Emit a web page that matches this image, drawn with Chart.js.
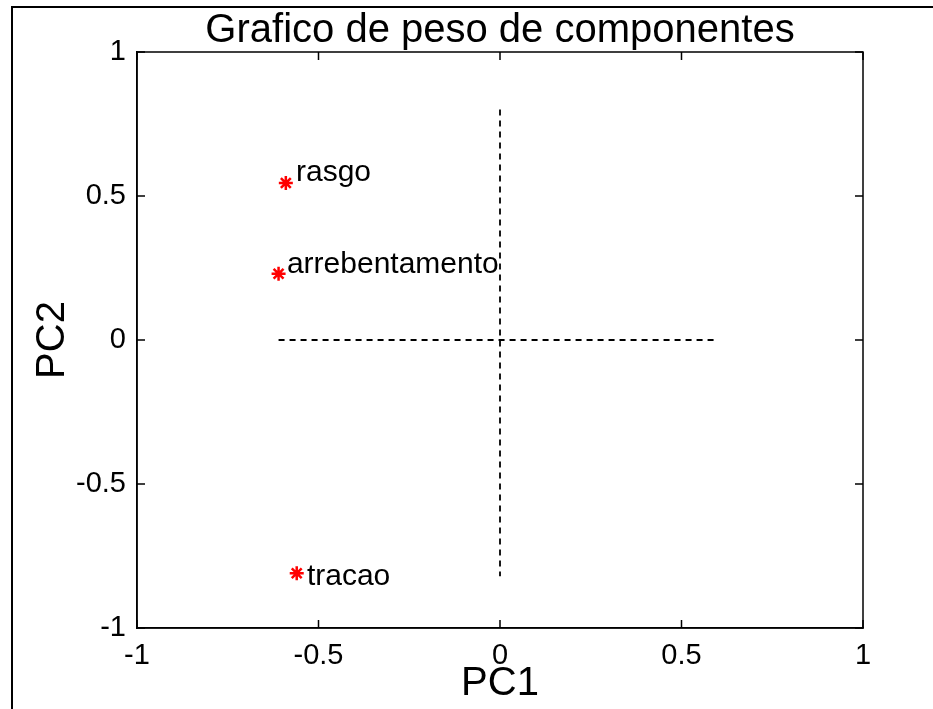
<!DOCTYPE html>
<html>
<head>
<meta charset="utf-8">
<title>Grafico de peso de componentes</title>
<script src="https://cdn.jsdelivr.net/npm/chart.js@4/dist/chart.umd.min.js"></script>
<style>
  html, body { margin: 0; padding: 0; background: #fff; }
  #wrap { width: 933px; height: 709px; }
</style>
</head>
<body>
<div id="wrap"><canvas id="pesos" width="933" height="709"></canvas></div>
<script>
// pesos das variaveis nas duas primeiras componentes
var variaveis = ['rasgo', 'arrebentamento', 'tracao'];
var pc1 = [-0.59, -0.61, -0.56];
var pc2 = [0.545, 0.23, -0.81];

// where the text labels were placed (data units)
var textoX = [-0.562, -0.587, -0.532];
var textoY = [0.58, 0.26, -0.823];

// dashed reference lines
var linhaVx = [0, 0];
var linhaVy = [0.8, -0.82];
var linhaHx = [-0.61, 0.6];
var linhaHy = [0, 0];

var ticksEixo = [-1, -0.5, 0, 0.5, 1];

var FONTE = '"Liberation Sans", Arial, Helvetica, sans-serif';

function pares(xs, ys) {
  return xs.map(function (x, i) { return { x: x, y: ys[i] }; });
}

// outer figure frame, axes box with inward ticks, title, point labels
var molduraMatlab = {
  id: 'molduraMatlab',
  beforeDraw: function (chart) {
    var ctx = chart.ctx;
    ctx.save();
    ctx.strokeStyle = '#000';
    ctx.lineWidth = 2;
    ctx.beginPath();
    ctx.moveTo(12, 709);
    ctx.lineTo(12, 7);
    ctx.lineTo(933, 7);
    ctx.stroke();
    ctx.restore();
  },
  afterDraw: function (chart) {
    var ctx = chart.ctx,
        a = chart.chartArea,
        sx = chart.scales.x,
        sy = chart.scales.y;
    ctx.save();
    ctx.strokeStyle = '#000';
    ctx.lineWidth = 1.5;
    ctx.strokeRect(a.left, a.top, a.right - a.left, a.bottom - a.top);

    var tam = 8;
    ctx.beginPath();
    ticksEixo.forEach(function (v) {
      var px = sx.getPixelForValue(v);
      ctx.moveTo(px, a.bottom); ctx.lineTo(px, a.bottom - tam);
      ctx.moveTo(px, a.top); ctx.lineTo(px, a.top + tam);
      var py = sy.getPixelForValue(v);
      ctx.moveTo(a.left, py); ctx.lineTo(a.left + tam, py);
      ctx.moveTo(a.right, py); ctx.lineTo(a.right - tam, py);
    });
    ctx.stroke();

    // title
    ctx.fillStyle = '#000';
    ctx.font = '40px ' + FONTE;
    ctx.textAlign = 'center';
    ctx.textBaseline = 'middle';
    ctx.fillText('Grafico de peso de componentes', (a.left + a.right) / 2, 31);

    // labels next to the points
    ctx.font = '30px ' + FONTE;
    ctx.textAlign = 'left';
    variaveis.forEach(function (nome, i) {
      ctx.fillText(nome, sx.getPixelForValue(textoX[i]), sy.getPixelForValue(textoY[i]));
    });
    ctx.restore();
  }
};

var ctx = document.getElementById('pesos').getContext('2d');
var grafico = new Chart(ctx, {
  type: 'scatter',
  data: {
    datasets: [{
      label: 'pesos',
      data: pares(pc1, pc2),
      pointStyle: 'star',
      pointRadius: 7,
      pointBorderWidth: 2.5,
      borderColor: '#ff0000',
      backgroundColor: '#ff0000',
      showLine: false
    }, {
      label: 'vertical',
      data: pares(linhaVx, linhaVy),
      showLine: true,
      borderColor: '#000',
      borderWidth: 1.8,
      borderDash: [6, 5],
      pointRadius: 0
    }, {
      label: 'horizontal',
      data: pares(linhaHx, linhaHy),
      showLine: true,
      borderColor: '#000',
      borderWidth: 1.8,
      borderDash: [6, 5],
      pointRadius: 0
    }]
  },
  options: {
    responsive: false,
    devicePixelRatio: 1,
    animation: false,
    events: [],
    layout: { padding: { left: 0, right: 70, top: 52, bottom: 0 } },
    plugins: {
      legend: { display: false },
      tooltip: { enabled: false },
      title: { display: false }
    },
    scales: {
      x: {
        type: 'linear',
        min: -1,
        max: 1,
        afterFit: function (s) { s.height = 81; },
        afterBuildTicks: function (s) { s.ticks = ticksEixo.map(function (v) { return { value: v }; }); },
        grid: { display: false, drawTicks: false },
        border: { display: true, color: '#000', width: 1.5 },
        ticks: {
          color: '#000',
          padding: 11,
          maxRotation: 0,
          font: { family: FONTE, size: 29 },
          callback: function (v) { return String(v); }
        },
        title: {
          display: true,
          text: 'PC1',
          color: '#000',
          font: { family: FONTE, size: 40 },
          padding: { top: 0, bottom: 1 }
        }
      },
      y: {
        type: 'linear',
        min: -1,
        max: 1,
        afterFit: function (s) { s.width = 137; },
        afterBuildTicks: function (s) { s.ticks = ticksEixo.map(function (v) { return { value: v }; }); },
        grid: { display: false, drawTicks: false },
        border: { display: true, color: '#000', width: 1.5 },
        ticks: {
          color: '#000',
          padding: 11,
          font: { family: FONTE, size: 29 },
          callback: function (v) { return String(v); }
        },
        title: {
          display: true,
          text: 'PC2',
          color: '#000',
          font: { family: FONTE, size: 40 },
          padding: { top: 29, bottom: 0 }
        }
      }
    }
  },
  plugins: [molduraMatlab]
});
</script>
</body>
</html>
